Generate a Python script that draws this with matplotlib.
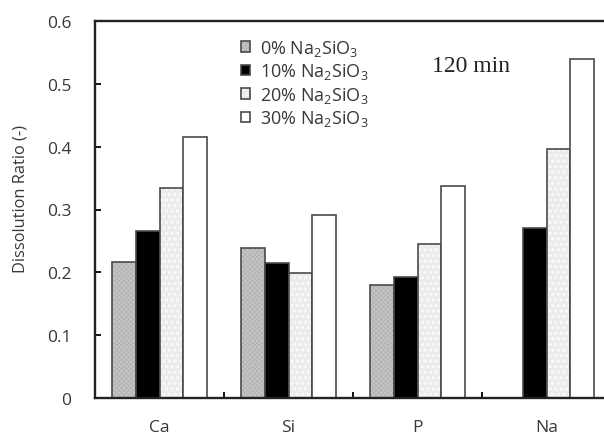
import matplotlib
matplotlib.use("Agg")
import matplotlib.pyplot as plt
import numpy as np

elements = ["Ca", "Si", "P", "Na"]
series_labels = [
    r"0% Na$_\mathregular{2}$SiO$_\mathregular{3}$",
    r"10% Na$_\mathregular{2}$SiO$_\mathregular{3}$",
    r"20% Na$_\mathregular{2}$SiO$_\mathregular{3}$",
    r"30% Na$_\mathregular{2}$SiO$_\mathregular{3}$",
]
ratio_0 = [0.217, 0.239, 0.179, 0.0]
ratio_10 = [0.265, 0.215, 0.193, 0.271]
ratio_20 = [0.335, 0.199, 0.245, 0.396]
ratio_30 = [0.415, 0.291, 0.338, 0.540]
yticks = [0, 0.1, 0.2, 0.3, 0.4, 0.5, 0.6]
ytick_labels = ["0", "0.1", "0.2", "0.3", "0.4", "0.5", "0.6"]

plt.rcParams["font.family"] = ["Open Sans", "DejaVu Sans"]
plt.rcParams["mathtext.fontset"] = "custom"
plt.rcParams["mathtext.rm"] = "Open Sans"
plt.rcParams["hatch.linewidth"] = 0.6

TEXT = "#383838"

fig = plt.figure(figsize=(6.04, 4.35), dpi=100)
ax = fig.add_axes([95 / 604, 36.25 / 435, 516 / 604, 376.5 / 435])

x = np.arange(len(elements))
w = 0.183
styles = [
    dict(facecolor="#c6c6c6", hatch="xxxxxxx", hatchcolor="#b2b2b2"),
    dict(facecolor="#000000", hatch=None, hatchcolor="#000000"),
    dict(facecolor="#ebebeb", hatch="ooo", hatchcolor="#f9f9f9"),
    dict(facecolor="#ffffff", hatch=None, hatchcolor="#ffffff"),
]
all_series = [ratio_0, ratio_10, ratio_20, ratio_30]
for i, (vals, st, lab) in enumerate(zip(all_series, styles, series_labels)):
    bars = ax.bar(x + (i - 1.5) * w, vals, w, facecolor=st["facecolor"],
                  edgecolor="#4a4a4a", linewidth=1.2, hatch=st["hatch"],
                  label=lab, zorder=2)
    for b in bars:
        if st["hatch"]:
            b.set_hatch_linewidth(0.6)
            b._hatch_color = matplotlib.colors.to_rgba(st["hatchcolor"])

ax.set_xlim(-0.5, 3.5)
ax.set_ylim(0, 0.6)
ax.set_yticks(yticks)
ax.set_yticklabels(ytick_labels)
ax.set_xticks(x + 0.5, minor=False)
ax.set_xticklabels([])
ax.set_xticks(x, minor=True)
ax.set_xticklabels(elements, minor=True)
ax.tick_params(axis="x", which="major", direction="in", length=4, width=1.3)
ax.tick_params(axis="x", which="minor", length=0, pad=15, labelsize=12.5,
               labelcolor=TEXT)
ax.tick_params(axis="y", direction="in", length=4, width=1.3, pad=17,
               labelsize=12.5, labelcolor=TEXT)
for s in ["left", "bottom", "top"]:
    ax.spines[s].set_linewidth(1.7)
    ax.spines[s].set_color("#222222")
ax.spines["right"].set_visible(False)

ax.set_ylabel("Dissolution Ratio (-)", fontsize=11.8, color=TEXT)
ax.yaxis.set_label_coords(29 / 604, 1 - 199 / 435, transform=fig.transFigure)

leg = ax.legend(loc="upper left", bbox_to_anchor=(241 / 604, 1 - 39 / 435),
                bbox_transform=fig.transFigure, frameon=False, fontsize=13,
                handlelength=0.5, handleheight=0.5, handletextpad=0.55,
                labelspacing=0.19, borderpad=0, borderaxespad=0)
for t in leg.get_texts():
    t.set_color(TEXT)

ax.text(471 / 604, 1 - 66 / 435, "120 min", transform=fig.transFigure,
        family="Liberation Serif", fontsize=17, ha="center", va="center",
        color="#222222")

fig.savefig("out.png", dpi=100)
